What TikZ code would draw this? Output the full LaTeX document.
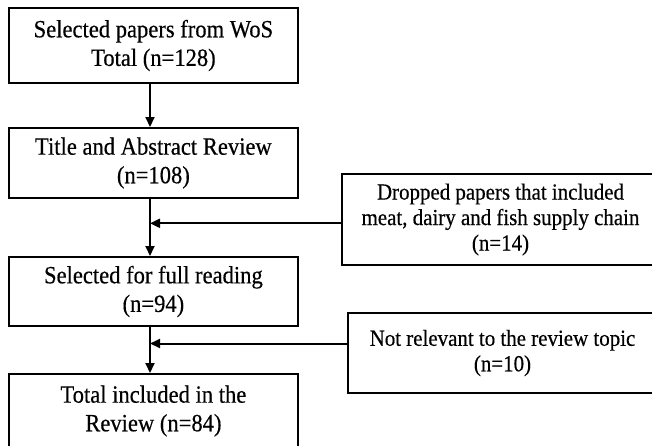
\documentclass[tikz,border=0pt]{standalone}
\usepackage{fontspec}
\setmainfont{Liberation Serif}[FakeStretch=0.91,FakeBold=0.4]
\usetikzlibrary{arrows.meta,calc}
\begin{document}
\begin{tikzpicture}[x=1pt,y=-1pt,
  box/.style={draw=black,line width=2pt,align=center,inner sep=0pt,
    font=\fontsize{24.8}{28.6}\selectfont},
  sidebox/.style={draw=black,line width=2pt,align=center,inner sep=0pt,
    font=\fontsize{23}{25.5}\selectfont},
  conn/.style={line width=2pt,-{Triangle[length=10pt,width=9pt]}}]
\path[use as bounding box,fill=white] (0,0) rectangle (652,445);
\clip (0,0) rectangle (652,445);
\node[box,minimum width=289pt,minimum height=75pt] (b1) at (153.4,45.5)
  {Selected papers from WoS\\Total (n=128)};
\node[box,minimum width=289pt,minimum height=70pt] (b2) at (153.4,163)
  {Title and Abstract Review\\(n=108)};
\node[box,minimum width=289pt,minimum height=69pt] (b3) at (153.4,291.5)
  {Selected for full reading\\(n=94)};
\node[box,minimum width=289pt,minimum height=74pt] (b4) at (153.4,411)
  {Total included in the\\Review (n=84)};
\node[sidebox,minimum width=317pt,minimum height=91pt] (r1) at (500.5,219.5)
  {Dropped papers that included\\meat, dairy and fish supply chain\\(n=14)};
\node[sidebox,minimum width=309pt,minimum height=80pt] (r2) at (502.5,353)
  {Not relevant to the review topic\\(n=10)};
\coordinate (ax) at ([xshift=-3.4pt]b1.south);
\coordinate (j1) at ([yshift=-3.8pt]r1.west);
\coordinate (j2) at ([yshift=9.5pt]r2.west);
\draw[conn] (ax) -- (ax |- b2.north);
\draw[conn] (ax |- b2.south) -- (ax |- b3.north);
\draw[conn] (ax |- b3.south) -- (ax |- b4.north);
\draw[conn] (j1) -- (ax |- j1);
\draw[conn] (j2) -- (ax |- j2);
\end{tikzpicture}
\end{document}
